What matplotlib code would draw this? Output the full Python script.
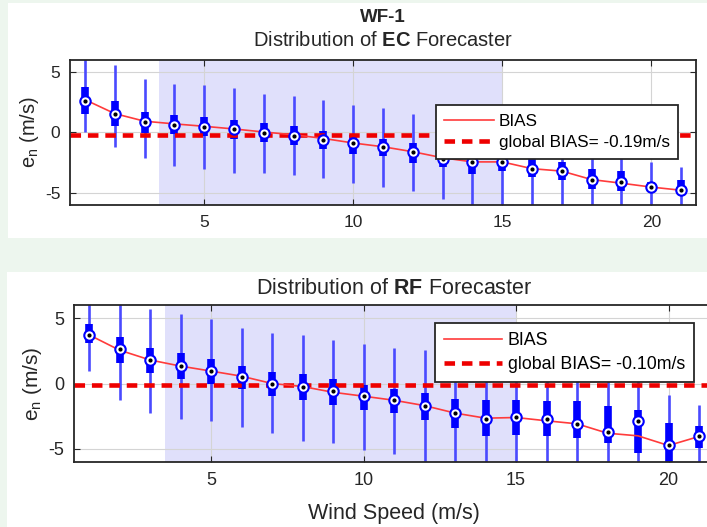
import numpy as np
import matplotlib.pyplot as plt
from matplotlib.patches import Rectangle

plt.rcParams['font.family'] = ['Liberation Sans', 'DejaVu Sans']
plt.rcParams['mathtext.fontset'] = 'custom'
plt.rcParams['mathtext.rm'] = 'Liberation Sans'
plt.rcParams['mathtext.it'] = 'Liberation Sans'
plt.rcParams['mathtext.bf'] = 'Liberation Sans:bold'
plt.rcParams['axes.unicode_minus'] = False

speed = np.arange(1, 22)

# EC forecaster (top panel)
ec_whi_hi = [6.5, 5.6, 4.4, 4.0, 3.9, 3.67, 3.2, 3.0, 2.7, 2.28, 2.03, 1.53, 1.0, 0.5,
             0.2, -0.3, -0.7, -1.0, -1.0, -2.44, -2.9]
ec_whi_lo = [0.0, -1.25, -2.1, -2.8, -3.05, -3.33, -3.33, -3.5, -3.75, -4.2, -4.5, -4.86,
             -5.5, -6.5, -6.5, -6.5, -6.5, -6.5, -6.5, -6.5, -6.5]
ec_q3 = [3.75, 2.55, 1.67, 1.45, 1.25, 1.06, 0.75, 0.5, 0.15, -0.2, -0.55, -0.9, -1.5,
         -1.7, -1.8, -1.9, -2.44, -3.05, -3.2, -4.13, -3.9]
ec_q1 = [1.5, 0.55, -0.05, -0.1, -0.27, -0.55, -0.78, -1.05, -1.4, -1.8, -1.95, -2.5,
         -2.9, -3.47, -3.2, -3.67, -3.94, -4.7, -4.86, -4.86, -5.14]
ec_med = [2.55, 1.5, 0.83, 0.62, 0.47, 0.28, -0.08, -0.27, -0.6, -0.9, -1.25, -1.6,
          -2.2, -2.44, -2.44, -3.0, -3.2, -3.9, -4.1, -4.52, -4.78]
ec_bias = [2.7, 1.55, 0.92, 0.7, 0.5, 0.28, 0.03, -0.2, -0.5, -0.88, -1.19, -1.6,
           -2.1, -2.44, -2.44, -3.0, -3.2, -3.9, -4.2, -4.52, -4.78]
ec_global = -0.19

# RF forecaster (bottom panel)
rf_whi_hi = [6.5, 6.5, 5.7, 5.3, 4.92, 4.28, 3.85, 3.69, 3.3, 3.0, 2.74, 2.56, 2.3, 2.0,
             1.8, 1.5, 1.2, 0.8, 0.5, -0.85, -1.62]
rf_whi_lo = [0.95, -1.28, -2.26, -2.72, -2.9, -3.33, -3.8, -4.36, -4.57, -5.08, -5.4, -6.5,
             -6.5, -6.5, -6.5, -6.5, -6.5, -6.5, -6.5, -6.5, -6.5]
rf_q3 = [4.54, 3.59, 2.74, 2.3, 1.9, 1.33, 0.87, 0.69, 0.36, -0.08, -0.41, -0.72, -1.18,
         -1.23, -1.23, -1.36, -1.36, -1.69, -2.0, -3.03, -3.23]
rf_q1 = [3.08, 1.59, 0.77, 0.36, 0.0, -0.41, -0.92, -1.28, -1.62, -2.0, -2.26, -2.82,
         -3.41, -4.05, -3.92, -4.0, -4.18, -4.57, -5.33, -6.5, -4.95]
rf_med = [3.72, 2.6, 1.8, 1.33, 0.95, 0.48, 0.0, -0.26, -0.59, -0.97, -1.28, -1.69,
          -2.26, -2.72, -2.57, -2.69, -3.08, -3.72, -2.9, -4.69, -4.05]
rf_bias = [3.72, 2.55, 1.8, 1.33, 0.95, 0.56, 0.0, -0.23, -0.67, -0.97, -1.28, -1.69,
           -2.26, -2.65, -2.6, -2.85, -3.08, -3.8, -4.0, -4.74, -4.05]
rf_global = -0.10

shade_range = (3.5, 15)
xticks = [5, 10, 15, 20]
yticks = [-5, 0, 5]

W, H = 707, 527
fig = plt.figure(figsize=(W / 100, H / 100), dpi=100, facecolor='#edf6ee')
# white screenshot panels on the slide background
fig.patches.append(Rectangle((8 / W, 1 - 238 / H), 1, 235 / H, transform=fig.transFigure,
                             facecolor='white', edgecolor='none', zorder=-5))
fig.patches.append(Rectangle((7 / W, 0), 1, 1 - 272 / H, transform=fig.transFigure,
                             facecolor='white', edgecolor='none', zorder=-5))

ax1 = fig.add_axes([70 / W, 1 - 205 / H, 626 / W, 145.3 / H])
ax2 = fig.add_axes([73.75 / W, 1 - 462 / H, 640.5 / W, 157 / H])
dark = '#262626'


def draw_panel(ax, hi, lo, q3, q1, med, bias, glob, leg_anchor, fs, hlen):
    ax.set_facecolor('white')
    ax.axvspan(*shade_range, color='#e0e0fb', zorder=0.2, lw=0)
    ax.vlines(speed, lo, hi, color='#4a4aff', lw=1.9, zorder=2)
    ax.vlines(speed, q1, q3, color='#0000ff', lw=5.5, zorder=2.1)
    ax.axhline(glob, color='#ee0000', lw=3.3, ls=(0, (2.3, 1.5)), zorder=2.5,
               label='global BIAS= %.2fm/s' % glob)
    ax.plot(speed, bias, color='#ff3b3b', lw=1.2, zorder=3, label='BIAS')
    ax.plot(speed, med, 'o', ms=7.5, mfc='white', mec='#0000ff', mew=1.5, zorder=4)
    ax.plot(speed, med, 'o', ms=2, color='black', zorder=5)
    ax.set_xlim(0.5, 21.5)
    ax.set_ylim(-6, 6)
    ax.set_xticks(xticks)
    ax.set_yticks(yticks)
    ax.set_axisbelow(True)
    ax.grid(True, color='#d4d4d4', lw=0.8, zorder=0.5)
    ax.tick_params(direction='in', top=True, right=True, length=4, labelsize=fs['tick'],
                   colors=dark, pad=7)
    for s in ax.spines.values():
        s.set_color(dark)
        s.set_linewidth(1.3)
    ax.set_ylabel(r'e$_\mathrm{n}$ (m/s)', fontsize=fs['label'], color=dark, labelpad=3)
    h, l = ax.get_legend_handles_labels()
    leg = ax.legend(h[::-1], l[::-1], loc='upper right', bbox_to_anchor=leg_anchor,
                    borderaxespad=0, fontsize=fs['legend'], handlelength=hlen,
                    handletextpad=0.3, borderpad=0.5, labelspacing=0.4, fancybox=False,
                    framealpha=1, edgecolor=dark)
    leg.get_frame().set_linewidth(1.3)
    leg.set_zorder(10)


draw_panel(ax1, ec_whi_hi, ec_whi_lo, ec_q3, ec_q1, ec_med, ec_bias, ec_global,
           (0.972, 0.688), {'tick': 12.5, 'label': 14.5, 'legend': 12.3}, 2.9)
draw_panel(ax2, rf_whi_hi, rf_whi_lo, rf_q3, rf_q1, rf_med, rf_bias, rf_global,
           (0.968, 0.885), {'tick': 13, 'label': 15, 'legend': 12.8}, 3.3)

fig.text(383 / W, 1 - 17 / H, 'WF-1', ha='center', va='center', fontsize=13.5,
         fontweight='bold', color=dark)
fig.text(383 / W, 1 - 41 / H, r'Distribution of $\bf{EC}$ Forecaster', ha='center',
         va='center', fontsize=14.5, color=dark)
fig.text(394 / W, 1 - 289 / H, r'Distribution of $\bf{RF}$ Forecaster', ha='center',
         va='center', fontsize=15.5, color=dark)
fig.text(394 / W, 1 - 513 / H, 'Wind Speed (m/s)', ha='center', va='center',
         fontsize=15.5, color=dark)

fig.savefig('out.png', dpi=100, facecolor=fig.get_facecolor())
